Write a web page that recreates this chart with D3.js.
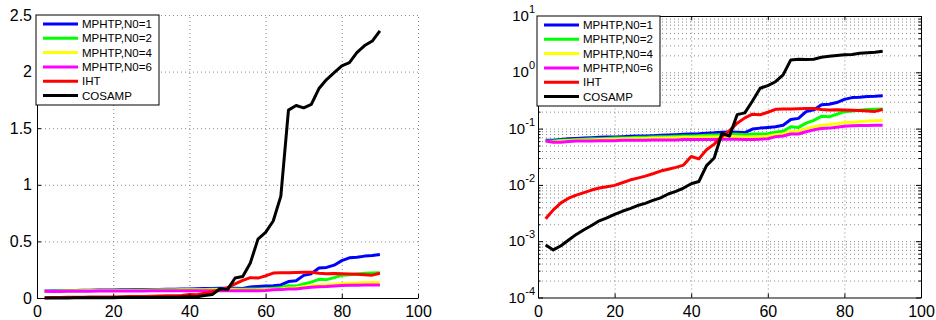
<!DOCTYPE html>
<html>
<head>
<meta charset="utf-8">
<script src="https://cdn.jsdelivr.net/npm/d3@7"></script>
<style>
  body { margin: 0; background: #fff; }
  svg { display: block; font-family: "Liberation Sans", Arial, sans-serif; }
  .grid line { stroke: #8a8a8a; stroke-width: 1; stroke-dasharray: 1,3; }
  .grid path { display: none; }
</style>
</head>
<body>
<svg id="chart" width="936" height="320"></svg>
<script>
// data
var xs = [2, 4, 6, 8, 10, 12, 14, 16, 18, 20, 22, 24, 26, 28, 30, 32, 34, 36, 38, 40, 42, 44, 46,
  48, 50, 52, 54, 56, 58, 60, 62, 64, 66, 68, 70, 72, 74, 76, 78, 80, 82, 84, 86, 88, 90];

var names = ["MPHTP,N0=1", "MPHTP,N0=2", "MPHTP,N0=4", "MPHTP,N0=6", "IHT", "COSAMP"];
var colors = ["#0000ff", "#00ff00", "#ffff00", "#ff00ff", "#ff0000", "#000000"];

var mphtp1 = [0.062, 0.062, 0.064, 0.066, 0.067, 0.068, 0.069, 0.070, 0.071, 0.071, 0.072, 0.073,
  0.074, 0.074, 0.075, 0.076, 0.077, 0.078, 0.079, 0.080, 0.081, 0.083, 0.084, 0.086, 0.087, 0.086,
  0.085, 0.098, 0.102, 0.105, 0.108, 0.115, 0.145, 0.152, 0.200, 0.215, 0.265, 0.270, 0.290, 0.330,
  0.355, 0.360, 0.370, 0.375, 0.385];
var mphtp2 = [0.060, 0.060, 0.062, 0.063, 0.064, 0.065, 0.066, 0.066, 0.067, 0.068, 0.068, 0.069,
  0.070, 0.070, 0.071, 0.072, 0.072, 0.073, 0.074, 0.074, 0.075, 0.076, 0.077, 0.078, 0.079, 0.079,
  0.078, 0.080, 0.080, 0.081, 0.086, 0.090, 0.108, 0.105, 0.125, 0.140, 0.165, 0.162, 0.180, 0.200,
  0.205, 0.212, 0.218, 0.220, 0.222];
var mphtp4 = [0.059, 0.058, 0.060, 0.061, 0.062, 0.063, 0.063, 0.064, 0.065, 0.065, 0.066, 0.066,
  0.067, 0.067, 0.068, 0.068, 0.069, 0.069, 0.070, 0.070, 0.071, 0.071, 0.072, 0.072, 0.073, 0.072,
  0.071, 0.071, 0.072, 0.073, 0.078, 0.080, 0.088, 0.090, 0.100, 0.108, 0.115, 0.118, 0.122, 0.128,
  0.130, 0.133, 0.136, 0.138, 0.140];
var mphtp6 = [0.060, 0.057, 0.057, 0.059, 0.060, 0.060, 0.060, 0.061, 0.061, 0.061, 0.062, 0.062,
  0.062, 0.062, 0.063, 0.063, 0.063, 0.063, 0.064, 0.064, 0.064, 0.064, 0.064, 0.065, 0.065, 0.065,
  0.064, 0.064, 0.065, 0.066, 0.072, 0.074, 0.080, 0.080, 0.088, 0.095, 0.100, 0.102, 0.106, 0.110,
  0.112, 0.113, 0.114, 0.115, 0.115];
var iht = [0.0025, 0.0036, 0.0048, 0.0058, 0.0066, 0.0073, 0.0081, 0.0088, 0.0093, 0.0098, 0.0109,
  0.0122, 0.0132, 0.0143, 0.0158, 0.0176, 0.0190, 0.0205, 0.0225, 0.032, 0.029, 0.042, 0.053, 0.072,
  0.092, 0.125, 0.155, 0.180, 0.176, 0.195, 0.220, 0.222, 0.222, 0.225, 0.228, 0.228, 0.218, 0.215,
  0.216, 0.214, 0.212, 0.210, 0.206, 0.202, 0.218];
var cosamp = [0.00086, 0.00070, 0.00083, 0.00105, 0.00132, 0.0016, 0.0019, 0.0023, 0.0026, 0.0030,
  0.0034, 0.0038, 0.0043, 0.0047, 0.0053, 0.0059, 0.0069, 0.0077, 0.0088, 0.0105, 0.0115, 0.022,
  0.030, 0.082, 0.074, 0.177, 0.19, 0.31, 0.52, 0.58, 0.68, 0.90, 1.66, 1.70, 1.68, 1.71, 1.85,
  1.93, 1.99, 2.05, 2.08, 2.17, 2.23, 2.27, 2.36];

var xTicks = [0, 20, 40, 60, 80, 100];
var linTicks = [0, 0.5, 1, 1.5, 2, 2.5];
var linLabels = ["0", "0.5", "1", "1.5", "2", "2.5"];
var logTicks = [1e-4, 1e-3, 1e-2, 1e-1, 1e0, 1e1];
var logExps = ["-4", "-3", "-2", "-1", "0", "1"];

var series = [mphtp1, mphtp2, mphtp4, mphtp6, iht, cosamp];

var svg = d3.select("#chart");

function panel(box, yScale, isLog) {
  var x = d3.scaleLinear().domain([0, 100]).range([box.x0, box.x1]);
  var g = svg.append("g");
  var h = box.y1 - box.y0, w = box.x1 - box.x0;

  // grid
  g.append("g").attr("class", "grid")
    .attr("transform", "translate(0," + box.y1 + ")")
    .call(d3.axisBottom(x).tickValues(isLog ? [20, 40, 60, 80] : [20, 40, 60, 80, 100])
      .tickSize(-h).tickFormat(""));
  var gridY = isLog ? yScale.ticks().filter(function (d) { return d > 1e-4 && d < 10; })
                    : linTicks.slice(1);
  g.append("g").attr("class", "grid")
    .attr("transform", "translate(" + box.x0 + ",0)")
    .call(d3.axisLeft(yScale).tickValues(gridY).tickSize(-w).tickFormat(""));

  // series
  var line = d3.line()
    .x(function (d) { return x(d[0]); })
    .y(function (d) { return yScale(d[1]); });
  series.forEach(function (s, i) {
    g.append("path")
      .datum(xs.map(function (v, j) { return [v, s[j]]; }))
      .attr("fill", "none")
      .attr("stroke", colors[i])
      .attr("stroke-width", 3)
      .attr("stroke-linejoin", "round")
      .attr("d", line);
  });

  // axes
  var ax = g.append("g").attr("transform", "translate(0," + box.y1 + ")")
    .call(d3.axisBottom(x).tickValues(xTicks).tickSize(-4).tickSizeOuter(0).tickPadding(8));
  ax.selectAll("text").attr("font-size", 16).attr("fill", "#000")
    .attr("font-family", "Liberation Sans, Arial, sans-serif");
  var ay = g.append("g").attr("transform", "translate(" + box.x0 + ",0)");
  if (isLog) {
    ay.call(d3.axisLeft(yScale).tickValues(yScale.ticks()).tickSize(-2.5).tickSizeOuter(0).tickFormat(""));
    ay.selectAll(".tick line").filter(function (d) { return logTicks.indexOf(d) >= 0; }).attr("x2", 5);
    logTicks.forEach(function (t, i) {
      var tx = ay.append("text").attr("x", -3).attr("y", yScale(t) + 5)
        .attr("text-anchor", "end").attr("font-size", 15).attr("fill", "#000");
      tx.append("tspan").text("10");
      tx.append("tspan").attr("dy", -8).attr("font-size", 11).text(logExps[i]);
    });
    // right and top frame
    var ar = g.append("g").attr("transform", "translate(" + box.x1 + ",0)")
      .call(d3.axisRight(yScale).tickValues(yScale.ticks()).tickSize(-2.5).tickSizeOuter(0).tickFormat(""));
    ar.selectAll(".tick line").filter(function (d) { return logTicks.indexOf(d) >= 0; }).attr("x2", -5);
    g.append("g").attr("transform", "translate(0," + box.y0 + ")")
      .call(d3.axisTop(x).tickValues(xTicks).tickSize(-4).tickSizeOuter(0).tickFormat(""));
  } else {
    ay.call(d3.axisLeft(yScale).tickValues(linTicks).tickSize(-4).tickSizeOuter(0).tickPadding(5)
      .tickFormat(function (d, i) { return linLabels[i]; }));
    ay.selectAll("text").attr("font-size", 16).attr("fill", "#000")
      .attr("font-family", "Liberation Sans, Arial, sans-serif");
  }
  g.selectAll(".domain").attr("stroke", "#000");
  g.selectAll(".grid .domain").remove();

  // legend
  var lg = g.append("g").attr("transform", "translate(" + (box.x0 - 1) + "," + box.y0 + ")");
  lg.append("rect").attr("width", 123).attr("height", 90)
    .attr("fill", "#fff").attr("stroke", "#000").attr("stroke-width", 1);
  names.forEach(function (n, i) {
    var yy = 9 + i * 14.3;
    lg.append("line").attr("x1", 7).attr("x2", 42).attr("y1", yy).attr("y2", yy)
      .attr("stroke", colors[i]).attr("stroke-width", 3);
    lg.append("text").attr("x", 46).attr("y", yy + 4).attr("font-size", 11.5).text(n);
  });
}

var leftBox = { x0: 37, x1: 418, y0: 15, y1: 298 };
var rightBox = { x0: 538, x1: 921, y0: 16, y1: 297.5 };

var yLin = d3.scaleLinear().domain([0, 2.5]).range([leftBox.y1, leftBox.y0]);
var yLog = d3.scaleLog().domain([1e-4, 10]).range([rightBox.y1, rightBox.y0]);

panel(leftBox, yLin, false);
panel(rightBox, yLog, true);
</script>
</body>
</html>
